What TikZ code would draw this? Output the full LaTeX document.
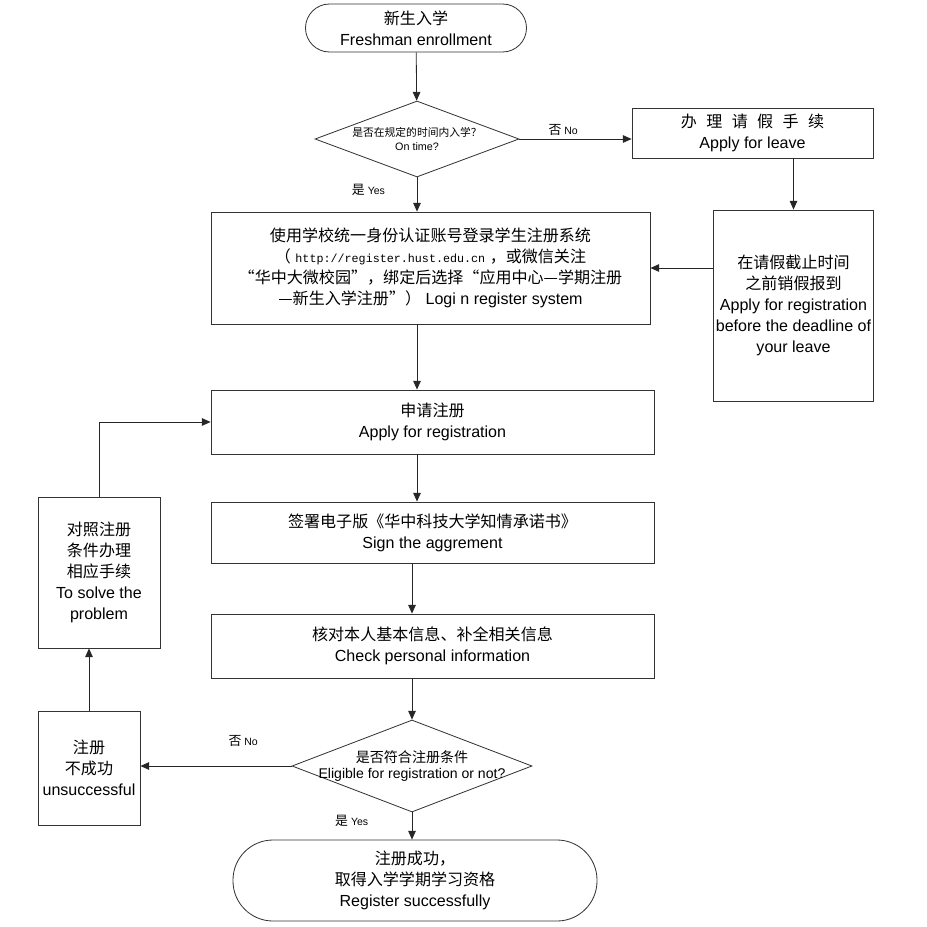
\documentclass[tikz,border=0pt]{standalone}
\usepackage{fontspec}
\setmainfont{Liberation Sans}
\newfontfamily\zh{Noto Sans CJK SC}
\newfontfamily\urlfont{Liberation Mono}
\usetikzlibrary{shapes.geometric, arrows.meta, positioning}
\tikzset{
    box/.style={draw=black!80, line width=0.7pt, align=center, inner sep=2pt, font=\fontsize{13.7}{18}\selectfont},
    terminal/.style={box, rounded corners=#1}, terminal/.default={0.7cm},
    decision/.style={diamond, draw=black!80, line width=0.7pt, inner sep=0pt},
    dtext/.style={align=center, inner sep=0pt},
    flow/.style={line width=0.7pt, draw=black!85, -{Triangle[length=7.5pt,width=6.5pt]}},
    yesno/.style={font=\fontsize{9}{12}\selectfont, inner sep=1pt},
}
\newcommand{\zhl}[1]{{\zh\fontsize{11}{12}\selectfont #1}}
\begin{document}
\begin{tikzpicture}[x=0.03cm, y=-0.03cm]
    \useasboundingbox (0,0) rectangle (927,927);

    % main column
    \node[terminal=0.72cm, minimum width=6.63cm, minimum height=1.44cm] (start) at (416,28) {{\zh 新生入学}\\Freshman enrollment};
    \node[decision, minimum width=6.12cm, minimum height=2.28cm,
          label={[dtext, font=\fontsize{9.2}{12}\selectfont]center:{{\zh 是否在规定的时间内入学？}\\On time?}}] (ontime) at (417,139) {};
    \node[box, minimum width=13.17cm, minimum height=3.36cm] (login) at (430.5,268)
        {{\zh 使用学校统一身份认证账号登录学生注册系统}\\
         {\zh （}\ {\urlfont\fontsize{10}{18}\selectfont http://register.hust.edu.cn}\ {\zh ，或微信关注}\\
         {\zh “华中大微校园”，绑定后选择“应用中心—学期注册}\\
         {\zh —新生入学注册”）} Logi n register system};
    \node[box, minimum width=13.29cm, minimum height=1.92cm] (apply) at (432.5,422) {{\zh 申请注册}\\Apply for registration};
    \node[box, minimum width=13.29cm, minimum height=1.83cm] (sign) at (432.5,532.5) {{\zh 签署电子版《华中科技大学知情承诺书》}\\Sign the aggrement};
    \node[box, minimum width=13.29cm, minimum height=1.92cm] (check) at (432.5,646) {{\zh 核对本人基本信息、补全相关信息}\\Check personal information};
    \node[decision, minimum width=7.2cm, minimum height=2.76cm,
          label={[dtext, font=\fontsize{12}{14}\selectfont]center:{{\zh 是否符合注册条件}\\Eligible for registration or not?}}] (eligible) at (412,766) {};
    \node[terminal=1.2cm, minimum width=10.92cm, minimum height=2.43cm] (done) at (415,880.5) {{\zh 注册成功，}\\{\zh 取得入学学期学习资格}\\Register successfully};

    % leave branch
    \node[box, minimum width=7.23cm, minimum height=1.5cm] (leave) at (752.5,133)
        {{\zh 办\hspace{8pt}理\hspace{8pt}请\hspace{8pt}假\hspace{8pt}手\hspace{8pt}续}\\Apply for leave};
    \node[box, minimum width=4.77cm, minimum height=5.73cm] (deadline) at (793.5,305.5)
        {{\zh 在请假截止时间}\\{\zh 之前销假报到}\\Apply for registration\\before the deadline of\\your leave};

    % failure branch
    \node[box, minimum width=3.06cm, minimum height=3.42cm] (fail) at (89,768) {{\zh 注册}\\{\zh 不成功}\\unsuccessful};
    \node[box, minimum width=3.66cm, minimum height=4.53cm] (solve) at (99,572.5)
        {{\zh 对照注册}\\{\zh 条件办理}\\{\zh 相应手续}\\To solve the\\problem};

    \draw[flow] (start) -- (ontime);
    \draw[flow] (ontime.east) -- node[yesno, pos=0.39, above=2pt] {\zhl{否} No} (ontime.east -| leave.west);
    \draw[flow] (ontime.south) -- node[yesno, pos=0.35, left=26pt] {\zhl{是} Yes} (ontime.south |- login.north);
    \draw[flow] (deadline.north |- leave.south) -- (deadline.north);
    \draw[flow] (login.east -| deadline.west) -- (login.east);
    \draw[flow] (ontime |- login.south) -- (ontime |- apply.north);
    \draw[flow] (ontime |- apply.south) -- (ontime |- sign.north);
    \draw[flow] (eligible |- sign.south) -- (eligible |- check.north);
    \draw[flow] (eligible |- check.south) -- (eligible.north);
    \draw[flow] (eligible.west) -- node[yesno, pos=0.32, above=15pt] {\zhl{否} No} (eligible.west -| fail.east);
    \draw[flow] (eligible.south) -- node[yesno, pos=0.3, left=36pt] {\zhl{是} Yes} (eligible.south |- done.north);
    \draw[flow] (fail.north) -- (fail.north |- solve.south);
    \draw[flow] (solve.north) |- (apply.west);
\end{tikzpicture}
\end{document}
